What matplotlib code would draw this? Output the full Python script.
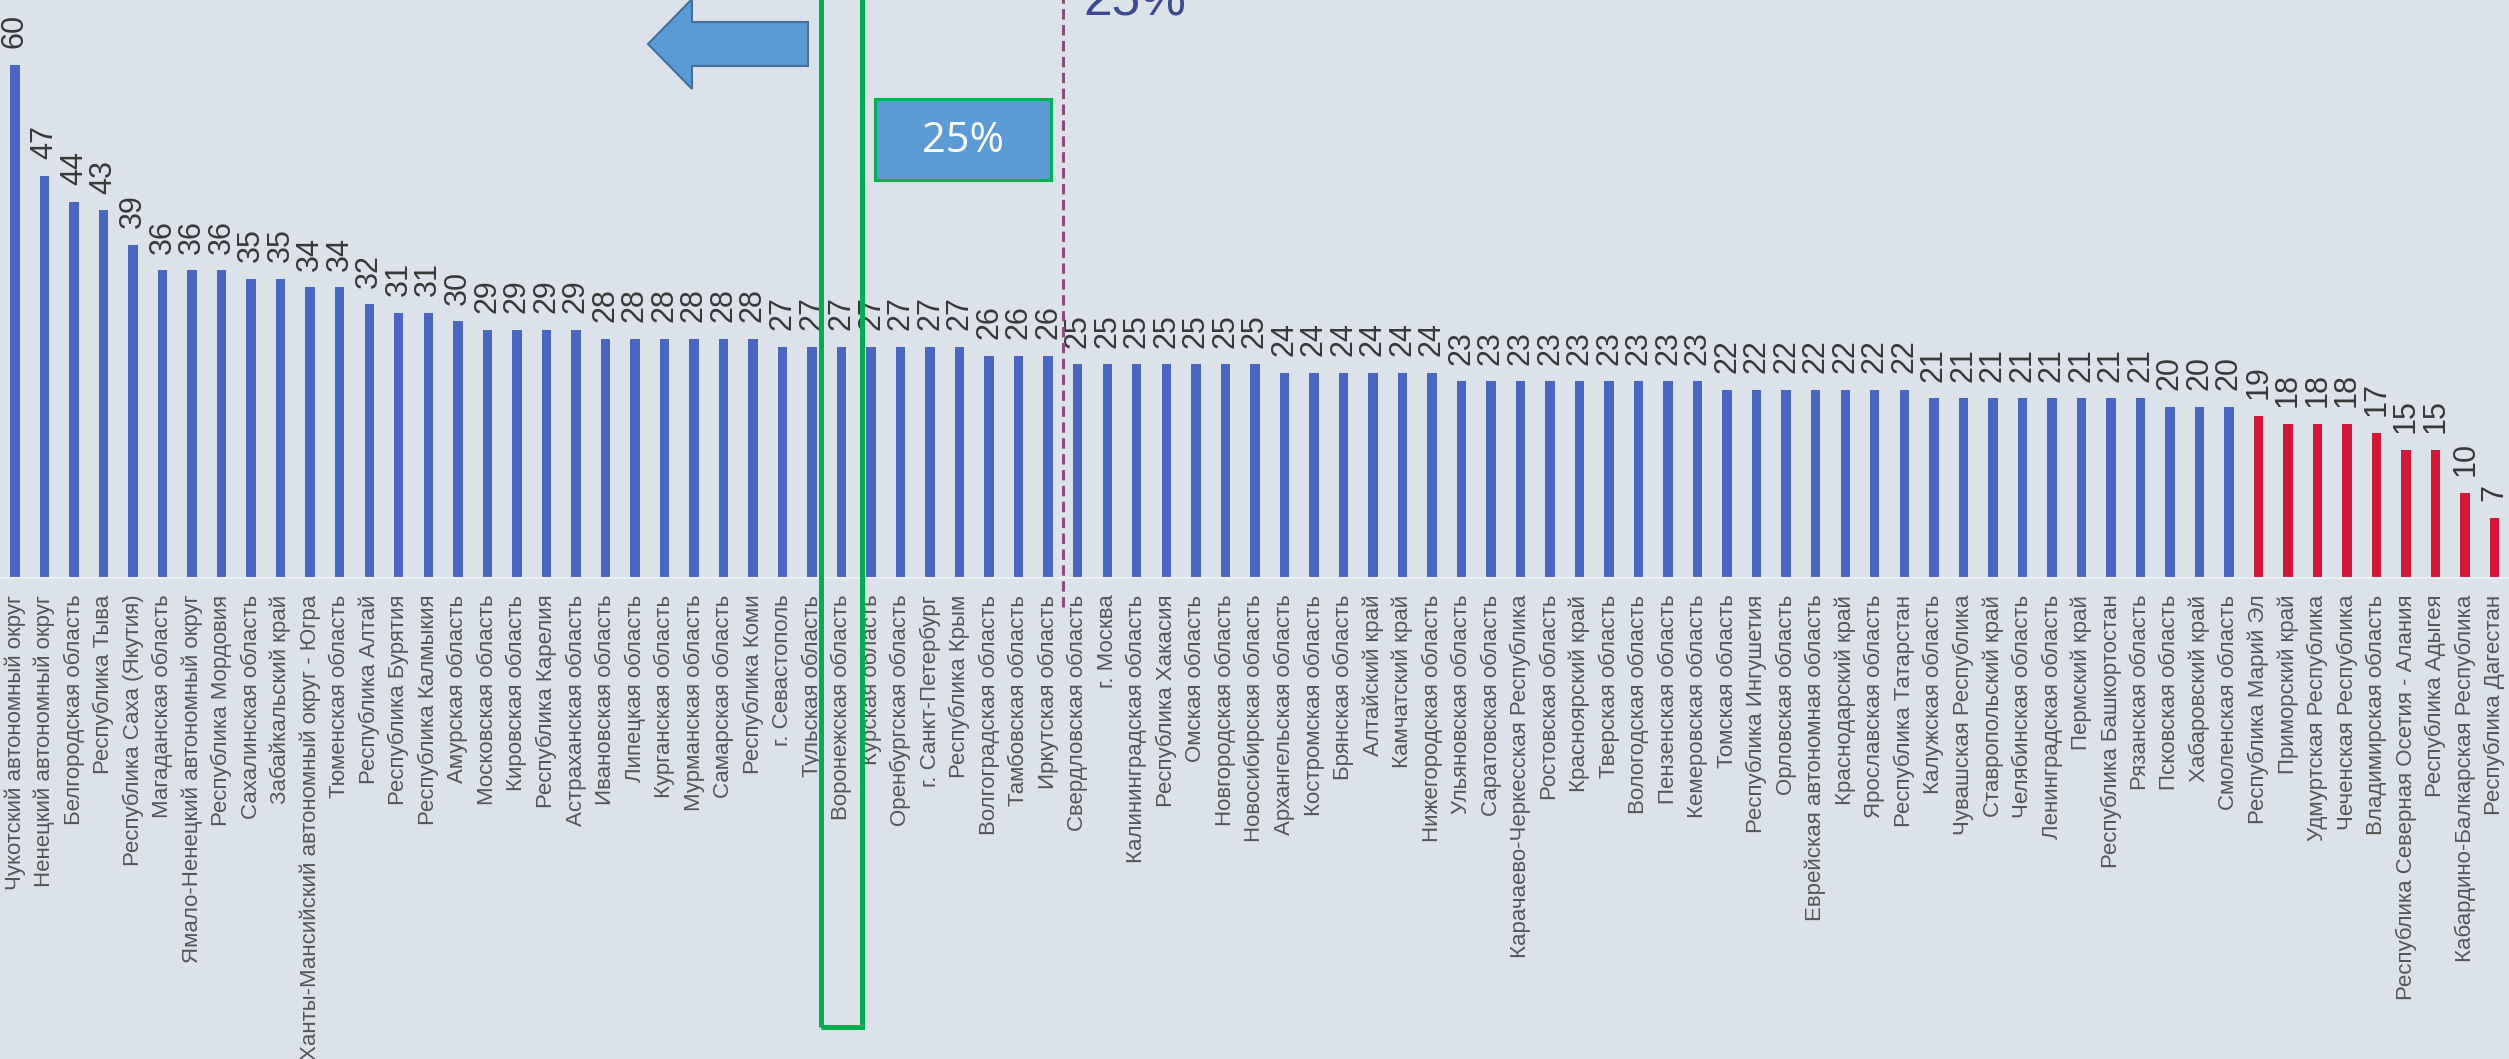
import matplotlib

matplotlib.use("Agg")
import matplotlib.pyplot as plt
from matplotlib.patches import Polygon, Rectangle

# Canvas (pixels at dpi 100)
W, H = 2509, 1059
DPI = 100

BG = "#dce2ea"
BLUE = "#4b66c1"
RED = "#d2173b"
TICK = "#555555"
VALUE = "#383838"
SHAPE = "#5b9bd5"       # office-style fill for arrow / callout
SHAPE_EDGE = "#41719c"
GREEN = "#00b050"
DASH = "#8c4a80"
AVG_TEXT = "#3b4a90"

regions = [
    "Чукотский автономный округ", "Ненецкий автономный округ", "Белгородская область",
    "Республика Тыва", "Республика Саха (Якутия)", "Магаданская область",
    "Ямало-Ненецкий автономный округ", "Республика Мордовия", "Сахалинская область",
    "Забайкальский край", "Ханты-Мансийский автономный округ - Югра", "Тюменская область",
    "Республика Алтай", "Республика Бурятия", "Республика Калмыкия", "Амурская область",
    "Московская область", "Кировская область", "Республика Карелия", "Астраханская область",
    "Ивановская область", "Липецкая область", "Курганская область", "Мурманская область",
    "Самарская область", "Республика Коми", "г. Севастополь", "Тульская область",
    "Воронежская область", "Курская область", "Оренбургская область", "г. Санкт-Петербург",
    "Республика Крым", "Волгоградская область", "Тамбовская область", "Иркутская область",
    "Свердловская область", "г. Москва", "Калининградская область", "Республика Хакасия",
    "Омская область", "Новгородская область", "Новосибирская область", "Архангельская область",
    "Костромская область", "Брянская область", "Алтайский край", "Камчатский край",
    "Нижегородская область", "Ульяновская область", "Саратовская область",
    "Карачаево-Черкесская Республика", "Ростовская область", "Красноярский край",
    "Тверская область", "Вологодская область", "Пензенская область", "Кемеровская область",
    "Томская область", "Республика Ингушетия", "Орловская область",
    "Еврейская автономная область", "Краснодарский край", "Ярославская область",
    "Республика Татарстан", "Калужская область", "Чувашская Республика", "Ставропольский край",
    "Челябинская область", "Ленинградская область", "Пермский край", "Республика Башкортостан",
    "Рязанская область", "Псковская область", "Хабаровский край", "Смоленская область",
    "Республика Марий Эл", "Приморский край", "Удмуртская Республика", "Чеченская Республика",
    "Владимирская область", "Республика Северная Осетия - Алания", "Республика Адыгея",
    "Кабардино-Балкарская Республика", "Республика Дагестан",
]
values = [
    60, 47, 44, 43, 39, 36, 36, 36, 35, 35, 34, 34, 32, 31, 31, 30, 29, 29, 29, 29,
    28, 28, 28, 28, 28, 28, 27, 27, 27, 27, 27, 27, 27, 26, 26, 26, 25, 25, 25, 25,
    25, 25, 25, 24, 24, 24, 24, 24, 24, 23, 23, 23, 23, 23, 23, 23, 23, 23, 22, 22,
    22, 22, 22, 22, 22, 21, 21, 21, 21, 21, 21, 21, 21, 20, 20, 20, 19, 18, 18, 18,
    17, 15, 15, 10, 7,
]
highlight = "Воронежская область"
avg_label = "25%"

plt.rcParams.update({
    "font.family": ["Liberation Sans", "DejaVu Sans"],
    "axes.spines.top": False,
    "axes.spines.right": False,
    "axes.spines.left": False,
})


def fpx(x, y):
    """Pixel position (from top-left) -> figure fraction."""
    return (x / W, 1 - y / H)


fig = plt.figure(figsize=(W / DPI, H / DPI), dpi=DPI, facecolor=BG)

base_px = 578      # baseline, pixels from top
unit_px = 8.55     # pixels per value unit
step_px = 29.52    # bar pitch
first_px = 15      # centre of first bar

ax = fig.add_axes([0, 1 - base_px / H, 1, base_px / H])
ax.set_facecolor(BG)
xs = list(range(len(values)))
colors = [RED if v < 20 else BLUE for v in values]
bars = ax.bar(xs, values, width=0.32, color=colors, zorder=2)
ax.bar_label(bars, rotation=90, padding=12, fontsize=22, color=VALUE)

ax.set_xlim(-first_px / step_px, (W - first_px) / step_px)
ax.set_ylim(0, base_px / unit_px)
ax.set_xticks(xs)
ax.set_xticklabels(regions, rotation=90, fontsize=16, color=TICK)
ax.tick_params(axis="x", length=0, pad=12)
ax.set_yticks([])
ax.spines["bottom"].set_color("#eaeef5")
ax.spines["bottom"].set_linewidth(1.5)

# average split: between last "26" and first "25"
split = sum(v >= 26 for v in values) - 0.5
ax.plot([split, split], [-29 / unit_px, 80], color=DASH, lw=2.2,
        ls=(0, (3.4, 1.8)), clip_on=False, zorder=3)

# green frame around the highlighted region
hi = regions.index(highlight)
ax.add_patch(Rectangle((hi - 0.68, (base_px - 1027) / unit_px), 1.36, 140,
                       fill=False, ec=GREEN, lw=3.6, clip_on=False, zorder=5))

# left-pointing arrow
arrow = Polygon([fpx(648, 44), fpx(692, -1), fpx(692, 22), fpx(808, 22),
                 fpx(808, 66), fpx(692, 66), fpx(692, 89)],
                closed=True, transform=fig.transFigure,
                fc=SHAPE, ec=SHAPE_EDGE, lw=1.5)
fig.add_artist(arrow)

# callout box
box_x0, box_y0 = fpx(875, 180)
fig.add_artist(Rectangle((box_x0, box_y0), 176 / W, 81 / H, transform=fig.transFigure,
                         fc=SHAPE, ec=GREEN, lw=2.2))
fig.text(*fpx(963, 141), avg_label, ha="center", va="center", color="white",
         fontsize=30, family=["Open Sans", "DejaVu Sans"])

# partially cropped average label at the top (cut off in the original too)
fig.text(*fpx(1083, 15), avg_label, ha="left", va="baseline", color=AVG_TEXT, fontsize=37)

fig.savefig("out.png", dpi=DPI, facecolor=BG)
